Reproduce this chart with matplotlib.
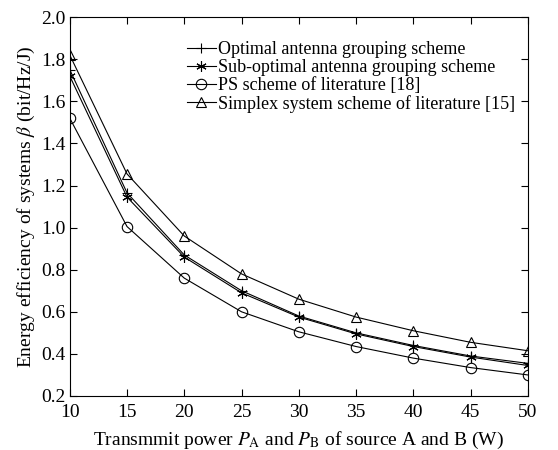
import numpy as np
import matplotlib
matplotlib.use('Agg')
import matplotlib.pyplot as plt

plt.rcParams['font.family'] = ['Liberation Serif', 'DejaVu Serif']
plt.rcParams['mathtext.fontset'] = 'stix'

power = [10, 15, 20, 25, 30, 35, 40, 45, 50]
optimal = [1.75, 1.165, 0.87, 0.70, 0.58, 0.50, 0.44, 0.39, 0.355]
sub_optimal = [1.72, 1.145, 0.86, 0.69, 0.575, 0.495, 0.435, 0.385, 0.345]
ps_scheme = [1.52, 1.005, 0.76, 0.60, 0.505, 0.435, 0.38, 0.335, 0.30]
simplex = [1.82, 1.255, 0.96, 0.78, 0.66, 0.575, 0.51, 0.455, 0.415]

fig = plt.figure(figsize=(5.58, 4.5), dpi=100)
ax = fig.add_axes([0.125, 0.12, 0.821, 0.842])

kw = dict(color='black', lw=0.8, markersize=7.5, markerfacecolor='none', markeredgewidth=0.8)
ax.plot(power, optimal, marker='+', label='Optimal antenna grouping scheme', **kw)
ax.plot(power, sub_optimal, marker=(6, 2, 0), label='Sub-optimal antenna grouping scheme', **kw)
ax.plot(power, ps_scheme, marker='o', label='PS scheme of literature [18]', **kw)
ax.plot(power, simplex, marker='^', label='Simplex system scheme of literature [15]', **kw)

ax.set_xlim(10, 50)
ax.set_ylim(0.2, 2.0)
ax.set_xticks(np.arange(10, 51, 5))
ax.set_yticks(np.arange(0.2, 2.01, 0.2))
ax.set_yticklabels(['%.1f' % v for v in np.arange(0.2, 2.01, 0.2)])
ax.tick_params(direction='in', top=True, right=True, labelsize=14, length=5, width=0.8)
ax.tick_params(axis='x', pad=6)
ax.tick_params(axis='y', pad=3)
for s in ax.spines.values():
    s.set_linewidth(0.8)

ax.set_xlabel(r'Transmmit power $P_{\mathrm{A}}$ and $P_{\mathrm{B}}$ of source A and B (W)', fontsize=14, labelpad=6)
ax.set_ylabel(r'Energy efficiency of systems $\beta$ (bit/Hz/J)', fontsize=14, labelpad=3)

ax.legend(loc='upper right', bbox_to_anchor=(0.995, 0.965), frameon=False, fontsize=13,
          handlelength=1.6, handletextpad=0.1, labelspacing=0.05, borderaxespad=0.2)

fig.savefig('out.png', dpi=100)
